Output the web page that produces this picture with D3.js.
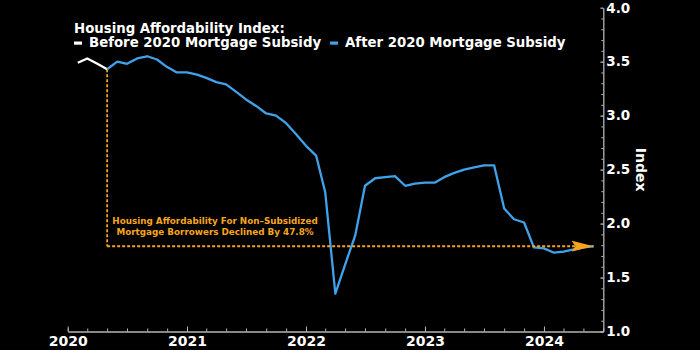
<!DOCTYPE html>
<html>
<head>
<meta charset="utf-8">
<script src="https://cdn.jsdelivr.net/npm/d3@7"></script>
<style>
  body { margin: 0; background: #000; }
  svg { display: block; }
  text { font-family: "DejaVu Sans", Verdana, sans-serif; font-weight: bold; }
</style>
</head>
<body>
<div id="chart"></div>
<script>
const width = 700
const height = 350
const margin = { top: 7.7, right: 96.7, bottom: 18.5, left: 67.7 }

const blue = "#3fa2ea"
const orange = "#f7a51e"
const axisGrey = "#b4b4b4"

// Monthly index, white part (before the subsidy), Feb 2020 - May 2020
const beforeMonths = ["2020-02", "2020-03", "2020-04", "2020-05"]
const beforeValues = [3.49, 3.53, 3.48, 3.43]

// Blue part (after the subsidy), May 2020 - Jun 2024
const afterMonths = d3.timeMonths(new Date(2020, 4, 1), new Date(2024, 6, 1)).map(d3.timeFormat("%Y-%m"))
const afterValues = [
  3.43, 3.50, 3.48, 3.53, 3.55, 3.52, 3.45, 3.40,
  3.40, 3.38, 3.35, 3.31, 3.29, 3.22, 3.15, 3.09, 3.02, 3.00, 2.93, 2.83,
  2.72, 2.63, 2.29, 1.35, 1.62, 1.89, 2.35, 2.42, 2.43, 2.44, 2.35, 2.37,
  2.38, 2.38, 2.43, 2.47, 2.50, 2.52, 2.54, 2.54, 2.14, 2.04, 2.01, 1.78,
  1.77, 1.73, 1.74, 1.76, 1.78, 1.79
]

const yearTicks = ["2020", "2021", "2022", "2023", "2024"]
const yTicks = [1.0, 1.5, 2.0, 2.5, 3.0, 3.5, 4.0]

const titleText = "Housing Affordability Index:"
const legendLabels = ["Before 2020 Mortgage Subsidy", "After 2020 Mortgage Subsidy"]
const noteLines = ["Housing Affordability For Non\u2013Subsidized", "Mortgage Borrowers Declined By 47.8%"]

const parseMonth = d3.timeParse("%Y-%m")
const beforeData = beforeMonths.map((m, i) => ({ date: parseMonth(m), value: beforeValues[i] }))
const afterData = afterMonths.map((m, i) => ({ date: parseMonth(m), value: afterValues[i] }))

const svg = d3.select("#chart")
              .append("svg")
                .attr("width", width)
                .attr("height", height)

svg.append("rect").attr("width", width).attr("height", height).attr("fill", "#000")

// Scales
const x = d3.scaleTime()
            .domain([new Date(2020, 0, 1), new Date(2024, 6, 1)])
            .range([margin.left, width - margin.right])

const y = d3.scaleLinear()
            .domain([1, 4])
            .range([height - margin.bottom, margin.top])

// x axis - minor ticks every two months, then yearly ticks with labels
svg.append("g")
   .attr("transform", `translate(0, ${height - margin.bottom})`)
   .call(d3.axisBottom(x).ticks(d3.timeMonth.every(2)).tickSize(-3).tickFormat(""))
   .call(g => g.select(".domain").remove())
   .call(g => g.selectAll("line").attr("stroke", axisGrey))

svg.append("g")
   .attr("transform", `translate(0, ${height - margin.bottom})`)
   .call(d3.axisBottom(x)
           .tickValues(yearTicks.map(d => new Date(+d, 0, 1)))
           .tickSizeInner(-5).tickSizeOuter(0).tickPadding(5)
           .tickFormat(d3.timeFormat("%Y")))
   .call(g => g.select(".domain").attr("stroke", axisGrey).attr("stroke-width", 1.3))
   .call(g => g.selectAll("line").attr("stroke", axisGrey))
   .call(g => g.selectAll("text").attr("fill", "#fff").style("font-size", "14px").style("font-family", null))

// y axis on the right, ticks pointing inwards
svg.append("g")
   .attr("transform", `translate(${width - margin.right}, 0)`)
   .call(d3.axisRight(y).ticks(30).tickSize(-2).tickFormat(""))
   .call(g => g.select(".domain").remove())
   .call(g => g.selectAll("line").attr("stroke", axisGrey))

svg.append("g")
   .attr("transform", `translate(${width - margin.right}, 0)`)
   .call(d3.axisRight(y).tickValues(yTicks).tickSizeInner(-3).tickSizeOuter(0).tickPadding(3)
           .tickFormat(d3.format(".1f")))
   .call(g => g.select(".domain").attr("stroke", axisGrey).attr("stroke-width", 1.3))
   .call(g => g.selectAll("line").attr("stroke", axisGrey))
   .call(g => g.selectAll("text").attr("fill", "#fff").style("font-size", "13.5px").style("font-family", null))

svg.append("text")
   .attr("transform", `translate(${width - margin.right + 38}, ${(y.range()[0] + y.range()[1]) / 2}) rotate(90)`)
   .attr("text-anchor", "middle")
   .attr("dy", "0.35em")
   .attr("fill", "#fff")
   .style("font-size", "14px")
   .text("Index")

// Annotation: dotted guide from the May 2020 level to the latest value
const first = afterData[0]
const last = afterData[afterData.length - 1]

svg.append("defs").append("marker")
   .attr("id", "arrow")
   .attr("markerUnits", "userSpaceOnUse")
   .attr("viewBox", "0 -6 22 12")
   .attr("refX", 22).attr("refY", 0)
   .attr("markerWidth", 22).attr("markerHeight", 12)
   .attr("orient", "auto")
   .append("path")
     .attr("d", "M0,-5.5L22,0L0,5.5L4,0Z")
     .attr("fill", orange)

svg.append("path")
   .attr("fill", "none")
   .attr("stroke", orange)
   .attr("stroke-width", 1.8)
   .attr("stroke-dasharray", "3,2")
   .attr("d", `M${x(first.date)},${y(first.value)}V${y(last.value)}`)

// Lines
const line = d3.line()
               .x(d => x(d.date))
               .y(d => y(d.value))

svg.append("path")
   .datum(beforeData)
   .attr("fill", "none")
   .attr("stroke", "#fff")
   .attr("stroke-width", 2.3)
   .attr("stroke-linejoin", "round")
   .attr("d", line)

svg.append("path")
   .datum(afterData)
   .attr("fill", "none")
   .attr("stroke", blue)
   .attr("stroke-width", 2.3)
   .attr("stroke-linejoin", "round")
   .attr("d", line)

svg.append("path")
   .attr("fill", "none")
   .attr("stroke", orange)
   .attr("stroke-width", 1.8)
   .attr("stroke-dasharray", "3,2")
   .attr("marker-end", "url(#arrow)")
   .attr("d", `M${x(first.date)},${y(last.value)}H${x(last.date)}`)

const note = svg.append("text")
                .attr("fill", orange)
                .attr("text-anchor", "middle")
                .style("font-size", "8.8px")
noteLines.forEach((t, i) => {
  note.append("tspan")
      .attr("x", x(new Date(2021, 2, 28)))
      .attr("y", y(last.value) - 22 + i * 10.7)
      .text(t)
})

// Title and legend
svg.append("text")
   .attr("x", 74).attr("y", 33)
   .attr("fill", "#fff")
   .style("font-size", "13.3px")
   .text(titleText)

const legend = svg.append("g").attr("transform", "translate(74, 47)")
const legendColors = ["#fff", blue]
let lx = 0
legendLabels.forEach((label, i) => {
  legend.append("rect")
        .attr("x", lx).attr("y", -5.5)
        .attr("width", 8).attr("height", 3.2)
        .attr("fill", legendColors[i])
  const t = legend.append("text")
                  .attr("x", lx + 15)
                  .attr("fill", "#fff")
                  .style("font-size", "13.3px")
                  .text(label)
  lx += 15 + t.node().getComputedTextLength() + 9
})
</script>
</body>
</html>
